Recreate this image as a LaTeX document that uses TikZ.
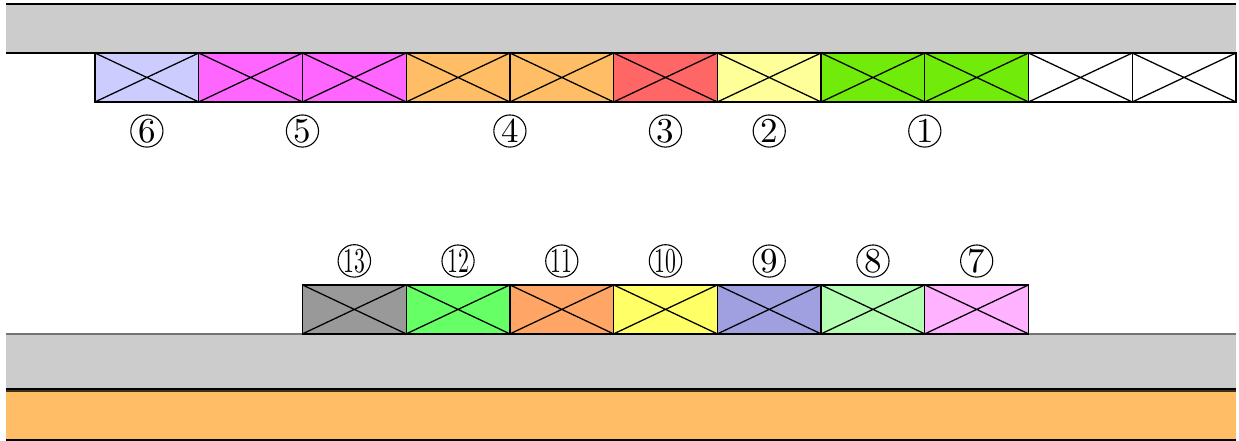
\documentclass[tikz,border=0pt]{standalone}
\usepackage{tikz}
\usetikzlibrary{positioning}
\definecolor{railgray}{RGB}{204,204,204}
\definecolor{slotblue}{RGB}{204,204,255}
\definecolor{slotmagenta}{RGB}{255,102,255}
\definecolor{slotorange}{RGB}{255,190,102}
\definecolor{slotred}{RGB}{255,102,102}
\definecolor{slotyellow}{RGB}{255,255,153}
\definecolor{slotgreen}{RGB}{112,235,10}
\definecolor{slotgray}{RGB}{153,153,153}
\definecolor{slotlime}{RGB}{102,255,102}
\definecolor{slotsalmon}{RGB}{255,166,102}
\definecolor{slotlemon}{RGB}{255,255,102}
\definecolor{slotviolet}{RGB}{160,160,224}
\definecolor{slotmint}{RGB}{178,255,178}
\definecolor{slotpink}{RGB}{255,178,255}
\newcommand{\twodig}[1]{\scalebox{0.62}[1]{#1}}
\tikzset{
    % box with a cross
    xbox/.style={
        draw,
        fill=#1,
        line width=0.35pt,
        minimum width=1cm,
        minimum height=0.472cm,
        inner sep=0pt,
        outer sep=0pt,
        path picture={
            \draw (path picture bounding box.north west) -- (path picture bounding box.south east)
                  (path picture bounding box.south west) -- (path picture bounding box.north east);
        }
    },
    numlabel/.style={
        circle,
        draw,
        line width=0.3pt,
        inner sep=0pt,
        minimum size=0.31cm,
        font=\fontsize{9.6}{10}\selectfont
    }
}
\begin{document}
\begin{tikzpicture}[x=1cm,y=1cm]
\useasboundingbox (0,0) rectangle (11.945,4.251);

% top rail
\fill[railgray] (0.058,3.740) rectangle (11.916,4.213);
\draw (0.058,4.213) -- (11.916,4.213);
\draw (0.058,3.740) -- (11.916,3.740);

% bottom rail
\fill[railgray] (0.058,0.501) rectangle (11.916,1.032);
\draw[black!55] (0.058,1.032) -- (11.916,1.032);
\draw (0.058,0.501) -- (11.916,0.501);
\fill[slotorange] (0.058,0.010) rectangle (11.916,0.470);
\draw[line width=0.6pt,black!75!slotorange] (0.058,0.481) -- (11.916,0.481);
\draw (0.058,0.010) -- (11.916,0.010);

% top row
\node[xbox=slotblue] (t1) at (1.416,3.504) {};
\node[xbox=slotmagenta, right=0pt of t1] (t2) {};
\node[xbox=slotmagenta, right=0pt of t2] (t3) {};
\node[xbox=slotorange, right=0pt of t3] (t4) {};
\node[xbox=slotorange, right=0pt of t4] (t5) {};
\node[xbox=slotred, right=0pt of t5] (t6) {};
\node[xbox=slotyellow, right=0pt of t6] (t7) {};
\node[xbox=slotgreen, right=0pt of t7] (t8) {};
\node[xbox=slotgreen, right=0pt of t8] (t9) {};
\node[xbox=white, right=0pt of t9] (t10) {};
\node[xbox=white, right=0pt of t10] (t11) {};

% labels of the top row
\node[numlabel, below=0.12cm of t1] (n6) {6};
\node[numlabel, below=0.12cm of t2.south east] (n5) {5};
\node[numlabel, below=0.12cm of t4.south east] (n4) {4};
\node[numlabel, below=0.12cm of t6] (n3) {3};
\node[numlabel, below=0.12cm of t7] (n2) {2};
\node[numlabel, below=0.12cm of t8.south east] (n1) {1};

% bottom row
\node[xbox=slotgray] (b1) at (3.416,1.268) {};
\node[xbox=slotlime, right=0pt of b1] (b2) {};
\node[xbox=slotsalmon, right=0pt of b2] (b3) {};
\node[xbox=slotlemon, right=0pt of b3] (b4) {};
\node[xbox=slotviolet, right=0pt of b4] (b5) {};
\node[xbox=slotmint, right=0pt of b5] (b6) {};
\node[xbox=slotpink, right=0pt of b6] (b7) {};

% labels of the bottom row
\node[numlabel, above=0.07cm of b1] (n13) {\twodig{13}};
\node[numlabel, above=0.07cm of b2] (n12) {\twodig{12}};
\node[numlabel, above=0.07cm of b3] (n11) {\twodig{11}};
\node[numlabel, above=0.07cm of b4] (n10) {\twodig{10}};
\node[numlabel, above=0.07cm of b5] (n9) {9};
\node[numlabel, above=0.07cm of b6] (n8) {8};
\node[numlabel, above=0.07cm of b7] (n7) {7};
\end{tikzpicture}
\end{document}
